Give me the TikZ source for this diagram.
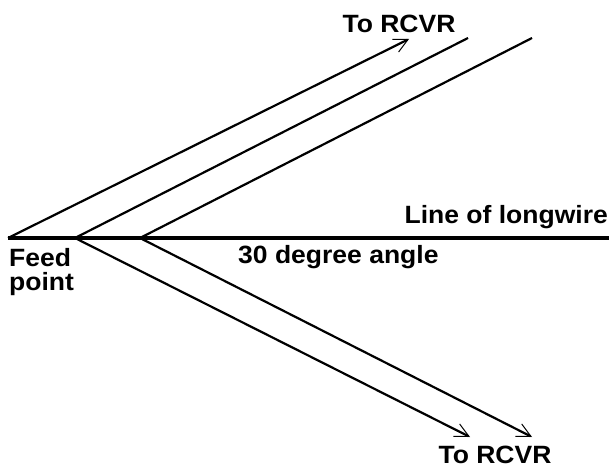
\documentclass[tikz,border=0pt]{standalone}
\usepackage{fontspec}
\setmainfont{Liberation Sans}[FakeStretch=1.06]
\usetikzlibrary{positioning,arrows.meta}
\tikzset{
    wire/.style={line width=2.2pt, color=black},
    longwire/.style={line width=3pt, color=black},
    feedarrow/.style={wire, -{Straight Barb[length=14pt, width=14pt, line width=1pt]}},
    lbl/.style={inner sep=0pt, font=\fontsize{25}{24}\selectfont\bfseries, text=black}
}
\begin{document}
\begin{tikzpicture}[x=1pt, y=-1pt]
\useasboundingbox (0,0) rectangle (611,468);

% Joints on the longwire
\coordinate (feed) at (8,238);
\coordinate (jointA) at (75,238);
\coordinate (jointB) at (140,238);
\coordinate (wireEnd) at (609,238);

% Far ends of the legs
\coordinate (upA) at (409,39);
\coordinate (upB) at (468,38);
\coordinate (upC) at (532,38);
\coordinate (downB) at (470,437);
\coordinate (downC) at (532,437);

% Line of longwire
\draw[longwire] (feed) -- (wireEnd);

% Legs
\draw[feedarrow] (feed) -- (upA);
\draw[wire] (jointA) -- (upB);
\draw[wire] (jointB) -- (upC);
\draw[feedarrow] (jointA) -- (downB);
\draw[feedarrow] (jointB) -- (downC);

% Labels
\node[lbl, anchor=base] (rcvrTop) at (399,33) {To RCVR};
\node[lbl, anchor=base] (rcvrBottom) at (495,463) {To RCVR};
\node[lbl, anchor=base east] (longwireLbl) at (608,224) {Line of longwire};
\node[lbl, anchor=base west] (angleLbl) at (238,263) {30 degree angle};
\node[lbl, anchor=north west, align=left] (feedLbl) at (9,248) {Feed\\point};

\end{tikzpicture}
\end{document}
